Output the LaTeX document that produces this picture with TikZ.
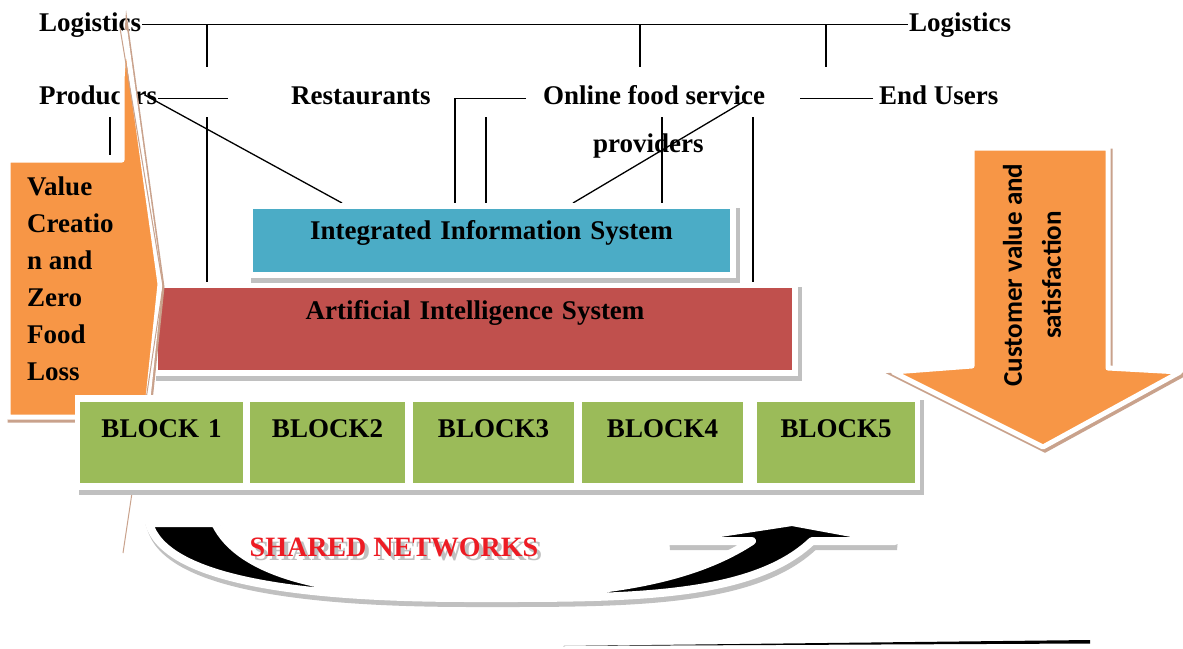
\documentclass[tikz,border=0pt]{standalone}
\usepackage{fontspec}
\setmainfont{Liberation Serif}
\newfontfamily\calibfont{Carlito}
\usepackage{xcolor}
\definecolor{infoblue}{RGB}{75,172,198}
\definecolor{aired}{RGB}{192,80,77}
\definecolor{blockgreen}{RGB}{155,187,89}
\definecolor{valueorange}{RGB}{247,150,70}
\definecolor{shadowgray}{RGB}{192,192,192}
\definecolor{shadowtan}{RGB}{201,162,140}
\definecolor{netred}{RGB}{237,28,36}
\usetikzlibrary{shadows, calc, backgrounds}

\begin{document}
\begin{tikzpicture}[
    x=1pt, y=-1pt,
    font=\fontsize{27}{32}\selectfont\bfseries,
    actor/.style={inner sep=1pt, anchor=base west},
    link/.style={line width=1.3pt},
    panel/.style={draw=white, line width=6pt, inner sep=0pt, align=center, anchor=north,
        drop shadow={shadow xshift=4pt, shadow yshift=-5pt, fill=shadowgray, draw=shadowgray, line width=6pt, opacity=1}},
    blockbox/.style={fill=blockgreen, inner sep=0pt, text height=35pt, text depth=46pt, align=center, anchor=north},
    bigarrow/.style={fill=valueorange, draw=white, line width=5pt, line join=round,
        drop shadow={shadow xshift=2pt, shadow yshift=-3pt, fill=shadowtan, draw=shadowtan, line width=5pt, opacity=1}}
]
    \useasboundingbox (0,0) rectangle (1183,648);

    % actors of the chain
    \node[actor] (logL) at (38,31) {Logistics};
    \node[actor] (logR) at (908,31) {Logistics};
    \node[actor] (prod) at (38,104) {Producers};
    \node[actor] (rest) at (290,104) {Restaurants};
    \node[actor] (ofs) at (542,104) {Online food service};
    \node[actor] (prov) at (592,152) {providers};
    \node[actor] (eu) at (878,104) {End Users};

    % system layers
    \node[panel, fill=aired, text width=640pt, text height=34pt, text depth=54pt] (ai) at (475,282) {Artificial Intelligence System};
    \node[panel, fill=infoblue, text width=483pt, text height=33pt, text depth=36pt] (iis) at (491.5,203) {Integrated Information System};

    \begin{scope}[on background layer]
        \fill[white] (0,0) rectangle (1183,648);
        \draw[link] (logL.east) -- (logR.west);
        \foreach \x in {207,640,826}
            \draw[link] (\x,0 |- logL.east) -- (\x,67);
        \draw[link] ([yshift=-4pt]prod.east) -- ++(70,0);
        \draw[link] (110,117) -- (110,155);
        \draw[link] (207,117) -- (207,0 |- ai.north);
        \draw[link] ([xshift=-14pt]prod.east) -- (342,0 |- iis.north);
        \draw[link] ([xshift=-16pt,yshift=-4pt]ofs.west) -| (455,0 |- iis.north);
        \draw[link] (486,117) -- (486,0 |- iis.north);
        \draw[link] (662,117) -- (662,0 |- iis.north);
        \draw[link] (753,117) -- (753,0 |- ai.north);
        \draw[link] (743,102) -- (573,0 |- iis.north);
        \draw[link] ([xshift=-5pt,yshift=-4pt]eu.west) -- ++(-73,0);
    \end{scope}

    % value creation arrow
    \path[bigarrow] (8,160) -- (122,160) -- (122,80) -- (125,32) -- (160,284) -- (146,417) -- (8,417) -- cycle;
    \draw[shadowtan, line width=1pt] (120,28) -- (163,286) -- (123,553);
    \node[align=left, anchor=north west, inner sep=0pt, font=\fontsize{27}{37}\selectfont\bfseries] (vc) at (27,177) {Value\\Creatio\\n and\\Zero\\Food\\Loss};

    % blocks
    \path[fill=white, drop shadow={shadow xshift=4pt, shadow yshift=-5pt, fill=shadowgray, opacity=1}] (75,395) rectangle (920,490);
    \foreach \cx/\w/\txt/\nm in {161.5/163/BLOCK 1/b1, 327.5/155/BLOCK2/b2, 493.5/161/BLOCK3/b3, 662.5/161/BLOCK4/b4, 836/158/BLOCK5/b5}
        \node[blockbox, text width=\w pt] (\nm) at (\cx,402) {\txt};

    % customer arrow
    \path[bigarrow] (972,148) -- (1108,148) -- (1108,368) -- (1180,372) -- (1043,447) -- (893,372) -- (972,366) -- cycle;
    \node[rotate=90, align=center, font=\calibfont\bfseries\fontsize{27}{39}\selectfont] (cv) at (1032,275) {Customer value and\\satisfaction};

    % shared networks
    \path[fill=black, draw=white, line width=8pt, line join=round,
        drop shadow={shadow xshift=2pt, shadow yshift=-5pt, fill=shadowgray, draw=shadowgray, line width=8pt, opacity=1}]
        (149,523) -- (215,523) .. controls (240,575) and (330,596) .. (470,596)
        .. controls (620,596) and (700,575) .. (752,541) -- (668,541) -- (792,522) -- (895,541) -- (812,541)
        .. controls (750,600) and (620,598) .. (470,598) .. controls (300,598) and (165,580) .. (149,523) -- cycle;
    \node[text=netred, font=\fontsize{28}{32}\selectfont\bfseries] (net) at (394,549)
        {\rlap{\hspace{4pt}\raisebox{-4pt}{\color{shadowgray}SHARED NETWORKS}}SHARED NETWORKS};

    \fill[black] (563,646) -- (1090,640) -- (1090,643.5) -- cycle;
\end{tikzpicture}
\end{document}
